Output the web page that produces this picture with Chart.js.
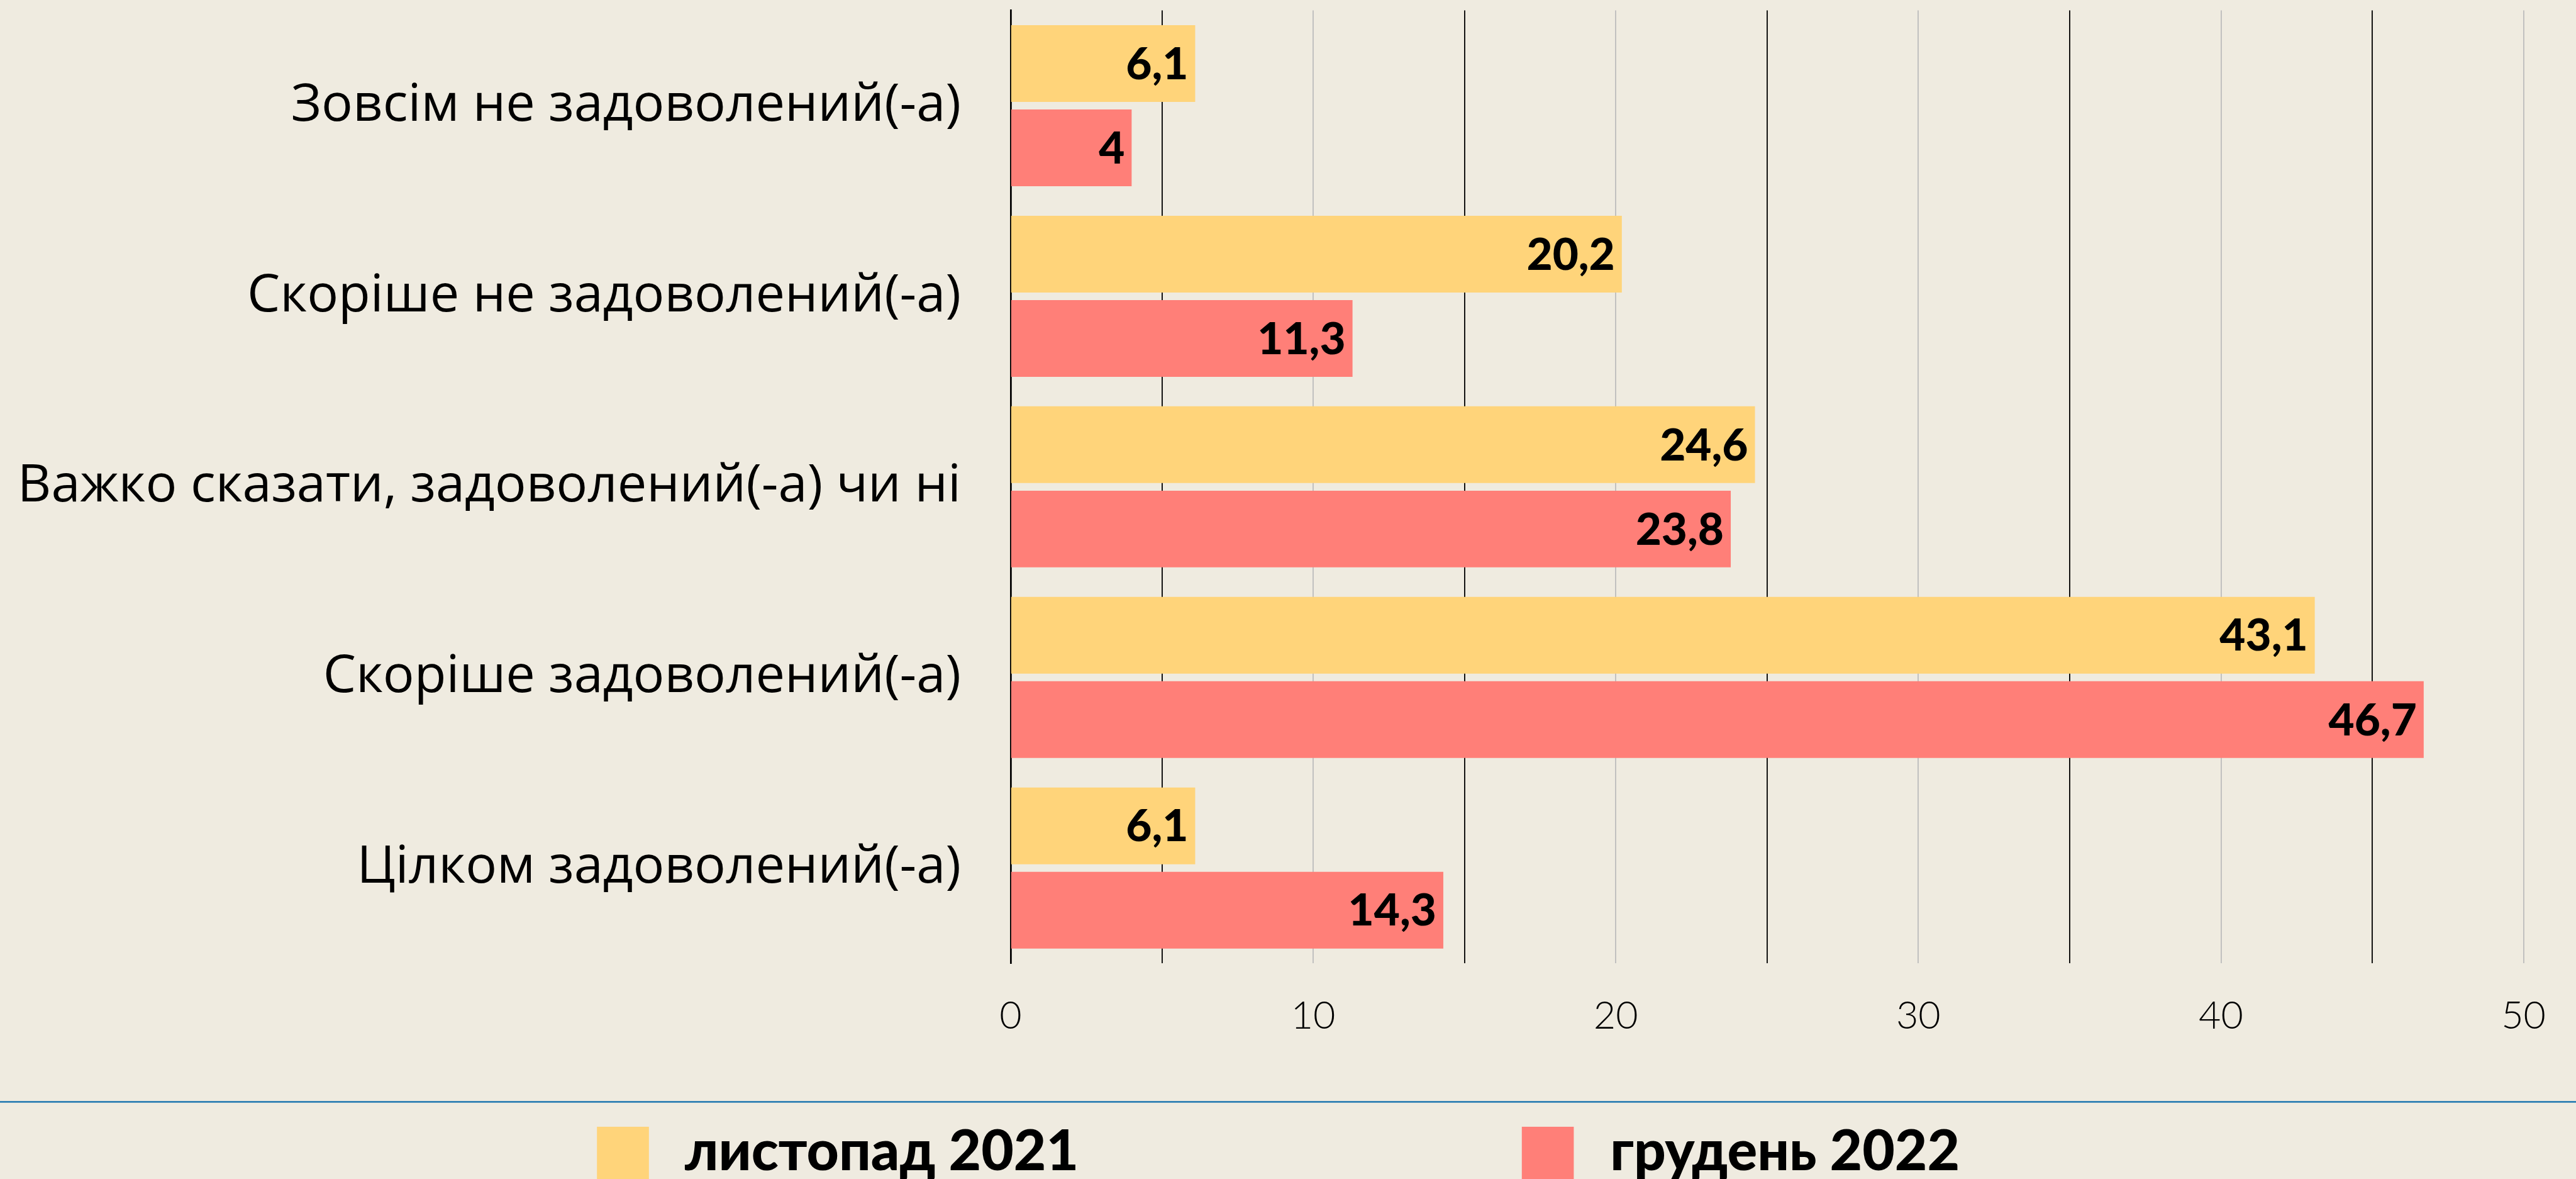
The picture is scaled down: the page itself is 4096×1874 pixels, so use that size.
<!DOCTYPE html>
<html>
<head>
<meta charset="utf-8">
<script src="https://cdn.jsdelivr.net/npm/chart.js@4.4.1/dist/chart.umd.min.js"></script>
<style>
  html, body { margin: 0; padding: 0; background: #efebe0; }
  #wrap { width: 4096px; height: 1874px; }
</style>
</head>
<body>
<div id="wrap"><canvas id="satChart" width="4096" height="1874"></canvas></div>
<script>
// Data
const categories = [
  "Зовсім не задоволений(-а)",
  "Скоріше не задоволений(-а)",
  "Важко сказати, задоволений(-а) чи ні",
  "Скоріше задоволений(-а)",
  "Цілком задоволений(-а)"
];
const nov2021 = [6.1, 20.2, 24.6, 43.1, 6.1];
const dec2022 = [4, 11.3, 23.8, 46.7, 14.3];
const seriesNames = ["листопад 2021", "грудень 2022"];
const seriesColors = ["#ffd47a", "#ff7f78"];
const xMin = 0, xMax = 50, xStep = 5;

const S = 4096 / 4462; // reference -> window scale
const FONT = "Lato, 'Open Sans', sans-serif";

// value labels at the end of each bar
const valueLabels = {
  id: "valueLabels",
  afterDatasetsDraw(chart) {
    const ctx = chart.ctx;
    ctx.save();
    ctx.font = "900 " + Math.round(77 * S) + "px " + FONT;
    ctx.fillStyle = "#000";
    ctx.textAlign = "right";
    ctx.textBaseline = "middle";
    chart.data.datasets.forEach((ds, i) => {
      chart.getDatasetMeta(i).data.forEach((bar, j) => {
        const txt = String(ds.data[j]).replace(".", ",");
        ctx.fillText(txt, bar.x - 12 * S, bar.y + 2 * S);
      });
    });
    ctx.restore();
  }
};

// separator line and legend under the chart
const bottomLegend = {
  id: "bottomLegend",
  afterDraw(chart) {
    const ctx = chart.ctx;
    ctx.save();
    ctx.strokeStyle = "#2e7fb3";
    ctx.lineWidth = 3 * S;
    ctx.beginPath();
    ctx.moveTo(0, 1908 * S);
    ctx.lineTo(chart.width, 1908 * S);
    ctx.stroke();

    const boxX = [1034, 2636];
    const textX = [1186, 2789];
    ctx.font = "900 " + Math.round(97 * S) + "px " + FONT;
    ctx.textBaseline = "alphabetic";
    ctx.textAlign = "left";
    chart.data.datasets.forEach((ds, i) => {
      ctx.fillStyle = ds.backgroundColor;
      ctx.fillRect(boxX[i] * S, 1951 * S, 90 * S, 200 * S);
      ctx.fillStyle = "#000";
      ctx.fillText(ds.label, textX[i] * S, 2026 * S);
    });
    ctx.restore();
  }
};

new Chart(document.getElementById("satChart"), {
  type: "bar",
  data: {
    labels: categories,
    datasets: [
      {
        label: seriesNames[0],
        data: nov2021,
        backgroundColor: seriesColors[0],
        categoryPercentage: 0.885,
        barPercentage: 0.91,
      },
      {
        label: seriesNames[1],
        data: dec2022,
        backgroundColor: seriesColors[1],
        categoryPercentage: 0.885,
        barPercentage: 0.91,
      },
    ],
  },
  options: {
    indexAxis: "y",
    responsive: false,
    animation: false,
    layout: {
      padding: { top: 18 * S, right: 4462 * S - 4374 * S, bottom: 1874 - 1668 * S - 150, left: 0 },
    },
    plugins: {
      legend: { display: false },
      tooltip: { enabled: false },
    },
    scales: {
      x: {
        min: xMin,
        max: xMax,
        ticks: {
          stepSize: xStep,
          autoSkip: false,
          maxRotation: 0,
          padding: 48,
          color: "#000",
          font: { family: FONT, size: Math.round(66 * S), weight: "300" },
          callback: (v) => (v % 10 === 0 ? v : ""),
        },
        grid: {
          drawTicks: false,
          lineWidth: 2 * S,
          color: (c) => (c.tick && c.tick.value % 10 === 0 ? "#bdbdbd" : "#000"),
        },
        border: { display: false },
        afterFit: (scale) => { scale.height = 150; },
      },
      y: {
        ticks: {
          padding: 79,
          color: "#000",
          font: { family: "'Open Sans', Lato, sans-serif", size: Math.round(90 * S) },
        },
        grid: { display: false, drawTicks: false },
        border: { display: true, color: "#000", width: 3 * S },
        afterFit: (scale) => {
          scale.width = 1750.5 * S;
          scale.paddingTop = 0;
          scale.paddingBottom = 0;
        },
      },
    },
  },
  plugins: [valueLabels, bottomLegend],
});
</script>
</body>
</html>
